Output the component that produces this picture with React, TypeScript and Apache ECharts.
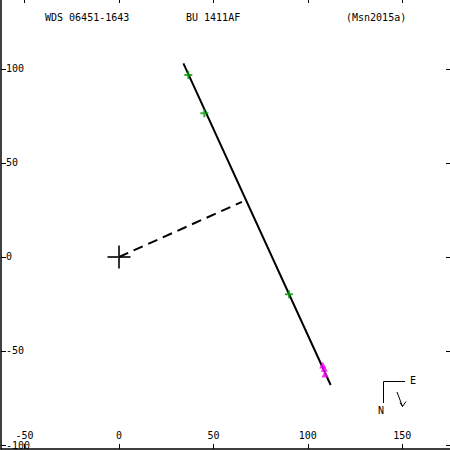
import React, { useEffect, useRef } from 'react';
import * as echarts from 'echarts';

const xTicks = [-50, 0, 50, 100, 150];
const yTicks = [-100, -50, 0, 50, 100];
const orbitLine = [[34.1, 103.0], [112.1, -68.1]];
const nodeLine = [[0, 0], [65.1, 29.3]];
const greenObs = [[36.7, 96.8], [45.2, 76.4], [90.0, -19.8]];
const magentaObs = [[107.9, -57.4], [108.7, -59.2], [109.1, -62.2]];
const primary = [[0, 0]];
const titleWds = 'WDS 06451-1643';
const titleName = 'BU 1411AF';
const titleRef = '(Msn2015a)';

const FONT = 'DejaVu Sans Mono';

export default function App() {
  const ref = useRef<HTMLDivElement>(null);
  useEffect(() => {
    if (!ref.current) return;
    const chart = echarts.init(ref.current, null, { renderer: 'svg' });
    const textStyle = { fontFamily: FONT, fontSize: 10, color: '#000' };
    chart.setOption({
      animation: false,
      backgroundColor: '#fff',
      grid: { left: 1, top: 0, right: 0, bottom: 1 },
      xAxis: [
        {
          type: 'value', position: 'bottom', min: -62.5, max: 175.3,
          splitLine: { show: false },
          axisLine: { show: true, onZero: false, lineStyle: { color: '#000', width: 1.5 } },
          axisTick: { show: true, inside: true, length: 5, customValues: xTicks, lineStyle: { color: '#000' } },
          axisLabel: { show: true, inside: true, margin: 8, customValues: xTicks, ...textStyle },
        },
        {
          type: 'value', position: 'top', min: -62.5, max: 175.3,
          splitLine: { show: false },
          axisLine: { show: false, onZero: false },
          axisTick: { show: true, inside: true, length: 3, customValues: xTicks, lineStyle: { color: '#000' } },
          axisLabel: { show: false },
        },
      ],
      yAxis: [
        {
          type: 'value', position: 'left', min: -102.1, max: 136.7,
          splitLine: { show: false },
          axisLine: { show: true, onZero: false, lineStyle: { color: '#000', width: 1.5 } },
          axisTick: { show: true, inside: true, length: 5, customValues: yTicks, lineStyle: { color: '#000' } },
          axisLabel: { show: true, inside: true, margin: 5, customValues: yTicks, ...textStyle },
        },
        {
          type: 'value', position: 'right', min: -102.1, max: 136.7,
          splitLine: { show: false },
          axisLine: { show: false, onZero: false },
          axisTick: { show: true, inside: true, length: 4, customValues: yTicks, lineStyle: { color: '#000' } },
          axisLabel: { show: false },
        },
      ],
      series: [
        {
          type: 'line', data: orbitLine, symbol: 'none',
          lineStyle: { color: '#000', width: 2 }, z: 2,
        },
        {
          type: 'line', data: nodeLine, symbol: 'none',
          lineStyle: { color: '#000', width: 2, type: [10, 6] }, z: 2,
        },
        {
          type: 'scatter', data: greenObs,
          symbol: 'path://M0,3H8V5H0Z M3,0H5V8H3Z', symbolSize: 8,
          itemStyle: { color: '#00a000' }, z: 3,
        },
        {
          type: 'scatter', data: magentaObs,
          symbol: 'triangle', symbolSize: 7,
          itemStyle: { color: '#ff00ff' }, z: 3,
        },
        {
          type: 'scatter', data: primary,
          symbol: 'path://M0,10.5H23V12.5H0Z M10.5,0H12.5V23H10.5Z', symbolSize: 23,
          itemStyle: { color: '#000' }, z: 4,
        },
      ],
      graphic: [
        { type: 'text', left: 45, top: 12, style: { text: titleWds, font: `10px "${FONT}"`, fill: '#000' } },
        { type: 'text', left: 186, top: 12, style: { text: titleName, font: `10px "${FONT}"`, fill: '#000' } },
        { type: 'text', left: 346, top: 12, style: { text: titleRef, font: `10px "${FONT}"`, fill: '#000' } },
        { type: 'polyline', shape: { points: [[405, 381.5], [383.5, 381.5], [383.5, 403]] }, style: { stroke: '#000', lineWidth: 1, fill: null } },
        { type: 'text', left: 410, top: 375, style: { text: 'E', font: `10px "${FONT}"`, fill: '#000' } },
        { type: 'text', left: 378, top: 405, style: { text: 'N', font: `10px "${FONT}"`, fill: '#000' } },
        { type: 'line', shape: { x1: 397, y1: 392, x2: 402.5, y2: 406.5 }, style: { stroke: '#000', lineWidth: 1 } },
        { type: 'polyline', shape: { points: [[400, 402.5], [402.5, 406.5], [406, 401.5]] }, style: { stroke: '#000', lineWidth: 1, fill: null } },
      ],
    });
    return () => chart.dispose();
  }, []);
  return <div ref={ref} style={{ position: 'fixed', left: 0, top: 0, width: 450, height: 450 }} />;
}
